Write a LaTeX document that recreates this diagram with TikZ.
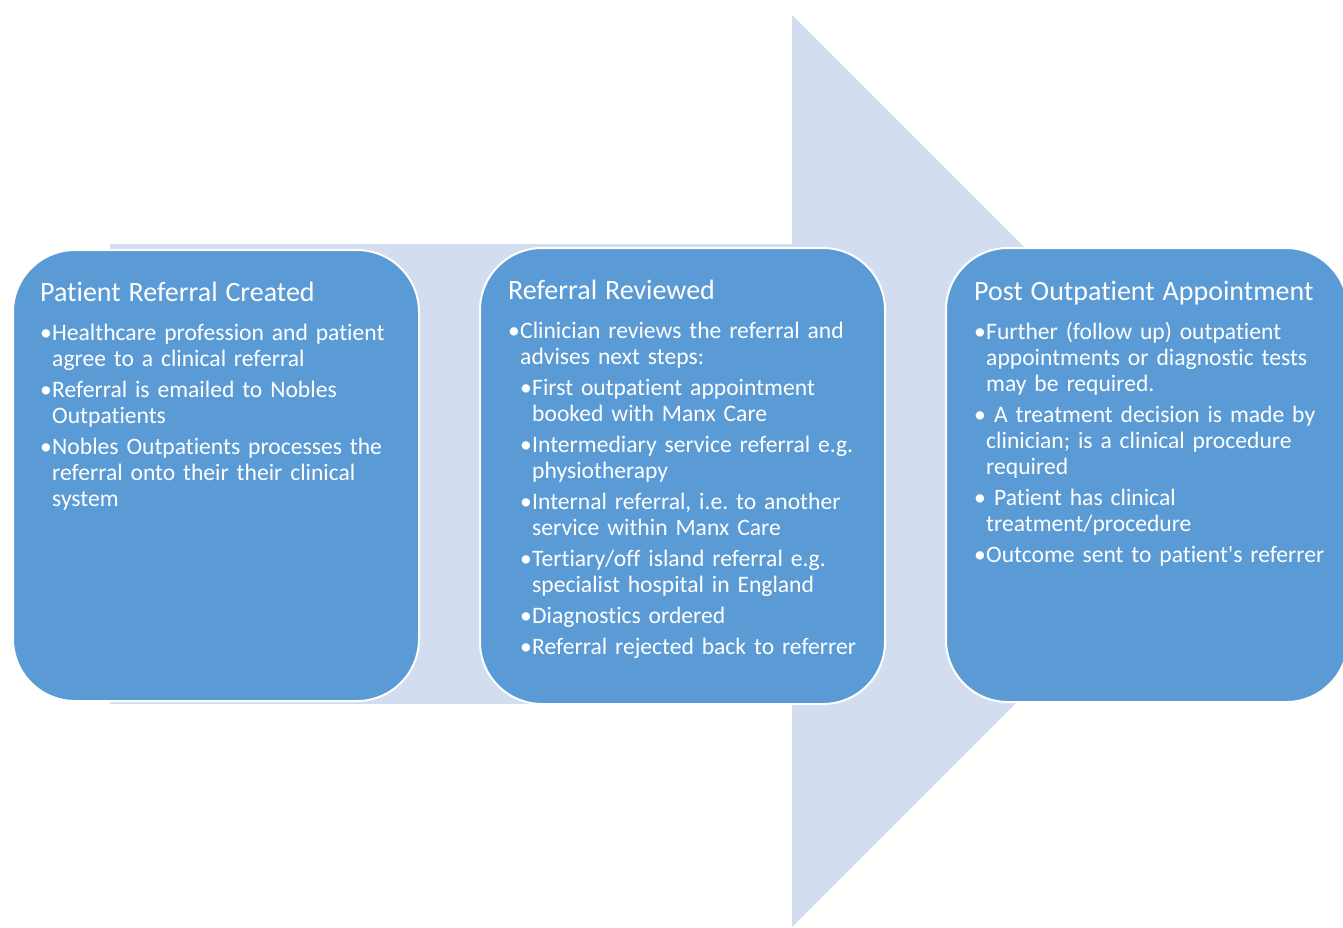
\documentclass[tikz,border=0pt]{standalone}
\usepackage{fontspec}
\setmainfont{Carlito}[Ligatures={NoCommon}]
\usetikzlibrary{positioning}
\definecolor{stageblue}{HTML}{5B9BD5}
\definecolor{flowbg}{HTML}{D2DEEF}
\frenchspacing
\newcommand{\stagetitle}[1]{{\fontsize{28}{30}\selectfont #1\par}\vspace{8pt}}
\newcommand{\pitem}[1]{\hangindent=12pt\hangafter=1\noindent\makebox[12pt][l]{•}#1\par}
\newcommand{\psubitem}[1]{\hangindent=24pt\hangafter=1\noindent\hspace*{12pt}\makebox[12pt][l]{•}#1\par}

\begin{document}
\begin{tikzpicture}[x=1pt,y=-1pt]
    \tikzstyle{stage}=[draw=white, line width=2pt, fill=stageblue, rounded corners=62pt, anchor=north west, inner sep=0pt]
    \tikzstyle{stagetext}=[anchor=north west, inner sep=0pt, text=white, text width=390pt, align=left,
        font=\fontsize{23.6}{26}\selectfont\setlength{\parskip}{5pt}]
    \useasboundingbox (0,0) rectangle (1343,927);
    % big background arrow
    \fill[flowbg] (110,244) -- (792,244) -- (792,15) -- (1248,471) -- (792,927) -- (792,704) -- (110,704) -- cycle;
    % the three stages
    \node[stage, minimum width=406pt, minimum height=451pt] (created) at (12,249) {};
    \node[stage, minimum width=405pt, minimum height=456pt] (reviewed) at (479,247) {};
    \node[stage, minimum width=402pt, minimum height=454pt] (post) at (945,247) {};
    \node[stagetext, below right=33pt and 28pt of created.north west] (createdtxt) {%
        \stagetitle{Patient Referral Created}
        \pitem{Healthcare profession and patient\newline agree to a clinical referral}
        \pitem{Referral is emailed to Nobles\newline Outpatients}
        \pitem{Nobles Outpatients processes the\newline referral onto their their clinical\newline system}};
    \node[stagetext, below right=33pt and 29pt of reviewed.north west] (reviewedtxt) {%
        \stagetitle{Referral Reviewed}
        \pitem{Clinician reviews the referral and\newline advises next steps:}
        \psubitem{First outpatient appointment\newline booked with Manx Care}
        \psubitem{Intermediary service referral e.g.\newline physiotherapy}
        \psubitem{Internal referral, i.e. to another\newline service within Manx Care}
        \psubitem{Tertiary/off island referral e.g.\newline specialist hospital in England}
        \psubitem{Diagnostics ordered}
        \psubitem{Referral rejected back to referrer}};
    \node[stagetext, below right=34pt and 29pt of post.north west] (posttxt) {%
        \stagetitle{Post Outpatient Appointment}
        \pitem{Further (follow up) outpatient\newline appointments or diagnostic tests\newline may be required.}
        \pitem{\ A treatment decision is made by\newline clinician; is a clinical procedure\newline required}
        \pitem{\ Patient has clinical\newline treatment/procedure}
        \pitem{Outcome sent to patient\textquotesingle s referrer}};
\end{tikzpicture}
\end{document}
